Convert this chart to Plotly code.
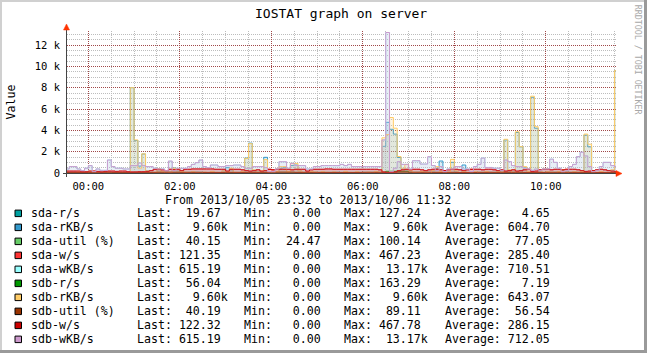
import plotly.graph_objects as go
import pandas as pd

# ---------------- data ----------------
series_names = ["sda-r/s", "sda-rKB/s", "sda-util (%)", "sda-w/s", "sda-wKB/s",
                "sdb-r/s", "sdb-rKB/s", "sdb-util (%)", "sdb-w/s", "sdb-wKB/s"]
series_colors = ["#00A0A0", "#3399CC", "#66CC66", "#FF3333", "#99FFFF",
                 "#009900", "#FFCC66", "#993300", "#CC0000", "#CC99CC"]

# legend statistics (value, unit suffix)
last_vals = [(19.67, " "), (9.60, "k"), (40.15, " "), (121.35, " "), (615.19, " "),
             (56.04, " "), (9.60, "k"), (40.19, " "), (122.32, " "), (615.19, " ")]
min_vals = [(0.00, " "), (0.00, " "), (24.47, " "), (0.00, " "), (0.00, " "),
            (0.00, " "), (0.00, " "), (0.00, " "), (0.00, " "), (0.00, " ")]
max_vals = [(127.24, " "), (9.60, "k"), (100.14, " "), (467.23, " "), (13.17, "k"),
            (163.29, " "), (9.60, "k"), (89.11, " "), (467.78, " "), (13.17, "k")]
avg_vals = [(4.65, " "), (604.70, " "), (77.05, " "), (285.40, " "), (710.51, " "),
            (7.19, " "), (643.07, " "), (56.54, " "), (286.15, " "), (712.05, " ")]

# 5-minute samples from 23:30 to 11:30
sdb_wkb = [380, 600, 600, 380, 220, 450, 690, 130, 380, 250, 250, 1220,
           600, 450, 450, 380, 380, 690, 690, 940, 690, 600, 600, 450,
           380, 380, 220, 1125, 220, 440, 440, 440, 600, 810, 970, 1220,
           600, 500, 750, 750, 600, 600, 690, 690, 750, 750, 600, 440,
           440, 600, 600, 600, 500, 130, 130, 375, 1060, 1060, 450, 910,
           690, 690, 690, 375, 375, 600, 600, 690, 690, 690, 690, 690,
           810, 690, 810, 600, 600, 600, 600, 600, 600, 600, 600, 3100,
           13170, 125, 450, 1060, 810, 810, 375, 1150, 1150, 840, 840, 1530,
           690, 250, 600, 125, 375, 375, 600, 600, 375, 375, 125, 600,
           810, 1400, 520, 520, 450, 450, 250, 1220, 1060, 690, 600, 600,
           450, 375, 250, 375, 250, 375, 375, 1300, 1000, 450, 125, 250,
           600, 810, 1530, 1950, 1600, 600, 125, 250, 600, 1000, 1000, 690, 615]
sda_wkb = [380, 600, 600, 380, 220, 450, 690, 130, 380, 250, 250, 1220,
           600, 450, 450, 380, 380, 690, 690, 940, 690, 600, 600, 450,
           380, 380, 220, 1100, 220, 440, 440, 440, 600, 810, 970, 1200,
           600, 500, 750, 750, 600, 600, 690, 690, 750, 750, 600, 440,
           440, 600, 600, 600, 500, 130, 130, 375, 1060, 1040, 450, 910,
           690, 690, 690, 375, 375, 600, 600, 690, 690, 690, 690, 690,
           810, 690, 810, 600, 600, 600, 600, 600, 600, 600, 600, 3100,
           13170, 125, 450, 1060, 810, 810, 375, 1150, 1130, 840, 840, 1500,
           690, 250, 600, 125, 375, 375, 600, 600, 375, 375, 125, 600,
           810, 1400, 520, 520, 450, 450, 250, 1220, 1060, 690, 600, 600,
           450, 375, 250, 375, 250, 375, 375, 1300, 1000, 450, 125, 250,
           600, 810, 1530, 1950, 1600, 600, 125, 250, 600, 1000, 1000, 690, 615]
sdb_rkb = [60, 0, 40, 120, 0, 80, 150, 0, 60, 0, 100, 40,
           0, 120, 80, 0, 60, 8000, 3100, 450, 1800, 200, 0, 60,
           380, 120, 0, 60, 450, 380, 150, 60, 0, 120, 40, 0,
           80, 0, 150, 60, 0, 200, 120, 450, 60, 0, 150, 1375,
           2750, 300, 0, 200, 1250, 60, 0, 150, 600, 600, 150, 900,
           900, 200, 60, 0, 150, 80, 0, 120, 60, 0, 100, 40,
           0, 150, 60, 0, 120, 40, 0, 80, 0, 150, 60, 3300,
           3600, 5200, 4200, 1550, 450, 800, 200, 60, 0, 150, 80, 0,
           250, 600, 150, 0, 80, 1280, 200, 0, 150, 60, 0, 120,
           60, 0, 150, 40, 0, 120, 60, 3160, 300, 0, 3870, 2470,
           600, 150, 7200, 4340, 200, 0, 120, 60, 0, 150, 300, 40,
           0, 120, 60, 150, 3650, 2700, 200, 0, 150, 60, 0, 300, 9600]
sda_rkb = [40, 0, 60, 100, 0, 60, 120, 0, 40, 0, 80, 60,
           0, 100, 60, 0, 40, 8000, 3050, 650, 1780, 220, 0, 40,
           300, 100, 0, 40, 470, 300, 120, 40, 0, 100, 60, 0,
           60, 0, 120, 40, 0, 180, 500, 300, 40, 0, 120, 1400,
           2800, 250, 0, 180, 1470, 40, 0, 120, 450, 500, 120, 700,
           750, 180, 40, 0, 120, 60, 0, 100, 40, 0, 80, 60,
           0, 120, 40, 0, 100, 60, 0, 60, 0, 120, 40, 2500,
           4750, 4100, 3650, 1450, 400, 300, 150, 40, 0, 120, 60, 0,
           200, 450, 1125, 0, 60, 1000, 150, 0, 750, 40, 0, 100,
           40, 0, 120, 60, 0, 100, 40, 3100, 250, 0, 3800, 2450,
           500, 120, 7100, 4200, 150, 0, 100, 40, 0, 120, 250, 60,
           0, 100, 40, 120, 3550, 2450, 150, 0, 120, 40, 0, 250, 9600]
sda_w = [180, 180, 180, 180, 120, 120, 180, 180, 150, 100, 150, 180,
         180, 150, 180, 180, 120, 100, 100, 120, 120, 150, 220, 350,
         350, 300, 220, 350, 300, 350, 220, 350, 350, 380, 380, 380,
         380, 380, 380, 350, 350, 350, 180, 350, 350, 350, 300, 220,
         180, 220, 300, 180, 220, 350, 300, 350, 350, 350, 350, 300,
         350, 350, 350, 180, 300, 350, 350, 350, 380, 380, 350, 350,
         350, 350, 350, 350, 350, 350, 350, 350, 350, 350, 300, 100,
         20, 60, 100, 220, 300, 350, 300, 350, 350, 300, 220, 300,
         350, 350, 300, 220, 300, 350, 350, 300, 220, 300, 350, 350,
         350, 300, 350, 350, 300, 220, 300, 180, 220, 300, 180, 220,
         300, 350, 150, 180, 300, 350, 350, 300, 350, 350, 300, 350,
         350, 350, 300, 220, 150, 180, 220, 300, 350, 300, 220, 180, 121]
sdb_w = [180, 180, 180, 180, 120, 120, 180, 180, 150, 100, 150, 180,
         180, 150, 180, 180, 120, 100, 100, 120, 120, 150, 220, 350,
         350, 300, 220, 350, 300, 350, 220, 350, 350, 380, 380, 380,
         380, 380, 380, 350, 350, 350, 180, 350, 350, 350, 300, 220,
         180, 220, 300, 180, 220, 350, 300, 350, 350, 350, 350, 300,
         350, 350, 350, 180, 300, 350, 350, 350, 380, 380, 350, 350,
         350, 350, 350, 350, 350, 350, 350, 350, 350, 350, 300, 100,
         20, 60, 100, 220, 300, 350, 300, 350, 350, 300, 220, 300,
         350, 350, 300, 220, 300, 350, 350, 300, 220, 300, 350, 350,
         350, 300, 350, 350, 300, 220, 300, 180, 220, 300, 180, 220,
         300, 350, 150, 180, 300, 350, 350, 300, 350, 350, 300, 350,
         350, 350, 300, 220, 150, 180, 220, 300, 350, 300, 220, 180, 122]

# 30-minute samples (small-valued series) from 23:30 to 11:30
sda_util = [70, 85, 60, 75, 90, 80, 65, 70, 85, 95, 80, 75, 70,
            80, 100, 85, 75, 60, 80, 90, 70, 85, 75, 60, 40]
sdb_util = [50, 60, 45, 55, 70, 60, 50, 55, 60, 75, 55, 50, 45,
            60, 89, 65, 55, 45, 55, 65, 50, 60, 55, 45, 40]
sda_rs = [0, 2, 0, 5, 0, 3, 0, 0, 4, 0, 2, 0, 0,
          0, 127, 5, 0, 3, 0, 6, 0, 8, 0, 2, 20]
sdb_rs = [0, 3, 0, 8, 0, 4, 0, 0, 6, 0, 3, 0, 0,
          0, 163, 6, 0, 5, 0, 8, 0, 10, 0, 3, 56]

y_ticks = [0, 2000, 4000, 6000, 8000, 10000, 12000]
y_ticktext = ["0", "2 k", "4 k", "6 k", "8 k", "10 k", "12 k"]

t_start = pd.Timestamp("2013-10-05 23:32")
t_end = pd.Timestamp("2013-10-06 11:32")
times5 = pd.date_range("2013-10-05 23:30", periods=len(sdb_wkb), freq="5min")
times30 = pd.date_range("2013-10-05 23:30", periods=len(sda_util), freq="30min")

# ---------------- layout geometry ----------------
W, H = 647, 353
ML, MR, MT, MB = 67, 31, 31, 180
PW, PH = W - ML - MR, H - MT - MB


def px(x):
    return (x - ML) / PW


def py(y):
    return (H - MB - y) / PH


def rgba(hexc, a):
    h = hexc.lstrip("#")
    return "rgba(%d,%d,%d,%.3f)" % (int(h[0:2], 16), int(h[2:4], 16), int(h[4:6], 16), a)


fig = go.Figure()

data_map = [
    (times30, sda_rs), (times5, sda_rkb), (times30, sda_util), (times5, sda_w), (times5, sda_wkb),
    (times30, sdb_rs), (times5, sdb_rkb), (times30, sdb_util), (times5, sdb_w), (times5, sdb_wkb),
]
for (tt, vals), col in zip(data_map, series_colors):
    xs = list(tt) + [t_end]
    ys = list(vals) + [vals[-1]]
    fig.add_trace(go.Scatter(
        x=xs, y=ys, mode="lines",
        line=dict(color=col, width=1, shape="hv"),
        fill="tozeroy", fillcolor=rgba(col, 0.17),
        hoverinfo="skip", showlegend=False))

mono = "DejaVu Sans Mono"
fig.update_layout(
    width=W, height=H,
    margin=dict(l=ML, r=MR, t=MT, b=MB, pad=0),
    paper_bgcolor="white", plot_bgcolor="white",
    showlegend=False,
    font=dict(family=mono, size=11, color="black"),
)
fig.update_xaxes(
    type="date", range=[t_start, t_end],
    tickformat="%H:%M", tick0="2013-10-06 00:00", dtick=7200000,
    ticks="", ticklabelstandoff=5,
    tickfont=dict(family=mono, size=10.5, color="black"),
    showgrid=True, gridcolor="#a04848", gridwidth=1, griddash="1px,1px",
    minor=dict(dtick=1800000, tick0="2013-10-06 00:00", showgrid=True,
               gridcolor="#bdbdbd", gridwidth=1, griddash="1px,1px"),
    showline=False, zeroline=False, fixedrange=True,
)
fig.update_yaxes(
    range=[0, 13312], tickmode="array", tickvals=y_ticks, ticktext=y_ticktext,
    ticks="", ticklabelstandoff=6,
    tickfont=dict(family=mono, size=10.5, color="black"),
    showgrid=True, gridcolor="#a04848", gridwidth=1, griddash="1px,1px",
    minor=dict(dtick=500, tick0=0, showgrid=True,
               gridcolor="#bdbdbd", gridwidth=1, griddash="1px,1px"),
    showline=False, zeroline=False, fixedrange=True,
)

shapes = []
# frame around the image
shapes.append(dict(type="rect", xref="paper", yref="paper", x0=px(0), x1=px(2), y0=py(H), y1=py(0),
                   line=dict(width=0), fillcolor="#d0d0d0", layer="above"))
shapes.append(dict(type="rect", xref="paper", yref="paper", x0=px(0), x1=px(W), y0=py(2), y1=py(0),
                   line=dict(width=0), fillcolor="#d0d0d0", layer="above"))
shapes.append(dict(type="rect", xref="paper", yref="paper", x0=px(W - 3), x1=px(W), y0=py(H), y1=py(0),
                   line=dict(width=0), fillcolor="#9a9a9a", layer="above"))
shapes.append(dict(type="rect", xref="paper", yref="paper", x0=px(0), x1=px(W), y0=py(H), y1=py(H - 3),
                   line=dict(width=0), fillcolor="#9a9a9a", layer="above"))
# axes
shapes.append(dict(type="line", xref="paper", yref="paper", x0=px(66.5), x1=px(66.5), y0=py(177), y1=py(28),
                   line=dict(color="#444444", width=1), layer="above"))
shapes.append(dict(type="line", xref="paper", yref="paper", x0=px(63), x1=px(618), y0=py(173.5), y1=py(173.5),
                   line=dict(color="#444444", width=1), layer="above"))
# arrows
shapes.append(dict(type="path", xref="paper", yref="paper",
                   path="M %f %f L %f %f L %f %f Z" % (px(63.5), py(30), px(69.5), py(30), px(66.5), py(24)),
                   line=dict(color="#FF3300", width=0.5), fillcolor="#FF3300", layer="above"))
shapes.append(dict(type="path", xref="paper", yref="paper",
                   path="M %f %f L %f %f L %f %f Z" % (px(616), py(170.5), px(616), py(176.5), px(622), py(173.5)),
                   line=dict(color="#FF3300", width=0.5), fillcolor="#FF3300", layer="above"))

annotations = []


def text(x, y, s, xanchor="left", size=11.6, color="black", angle=0):
    annotations.append(dict(x=px(x), y=py(y), xref="paper", yref="paper", text=s, showarrow=False,
                            xanchor=xanchor, yanchor="middle", borderpad=0, textangle=angle,
                            font=dict(family=mono, size=size, color=color)))


text(341.3, 13.8, "IOSTAT graph on server", xanchor="center", size=13)
text(10.8, 101.7, "Value", xanchor="center", angle=-90)
text(638.3, 60, "RRDTOOL / TOBI OETIKER", xanchor="center", size=8.3, color="#a8a8a8", angle=90)
text(308, 199.7, "From 2013/10/05 23:32 to 2013/10/06 11:32", xanchor="center")

row0, dy = 213.2, 14
for i, name in enumerate(series_names):
    yc = row0 + dy * i
    shapes.append(dict(type="rect", xref="paper", yref="paper", x0=px(15), x1=px(21.5), y0=py(yc + 3.4), y1=py(yc - 3.1),
                       line=dict(color="black", width=1), fillcolor=series_colors[i], layer="above"))
    text(29.5, yc, name)
    text(136.3, yc, "Last:%7.2f%s" % last_vals[i])
    text(243.3, yc, "Min:%7.2f%s" % min_vals[i])
    text(343.3, yc, "Max:%7.2f%s" % max_vals[i])
    text(444.0, yc, "Average:%7.2f%s" % avg_vals[i])

fig.update_layout(shapes=shapes, annotations=annotations)
fig.write_html("out.html")
